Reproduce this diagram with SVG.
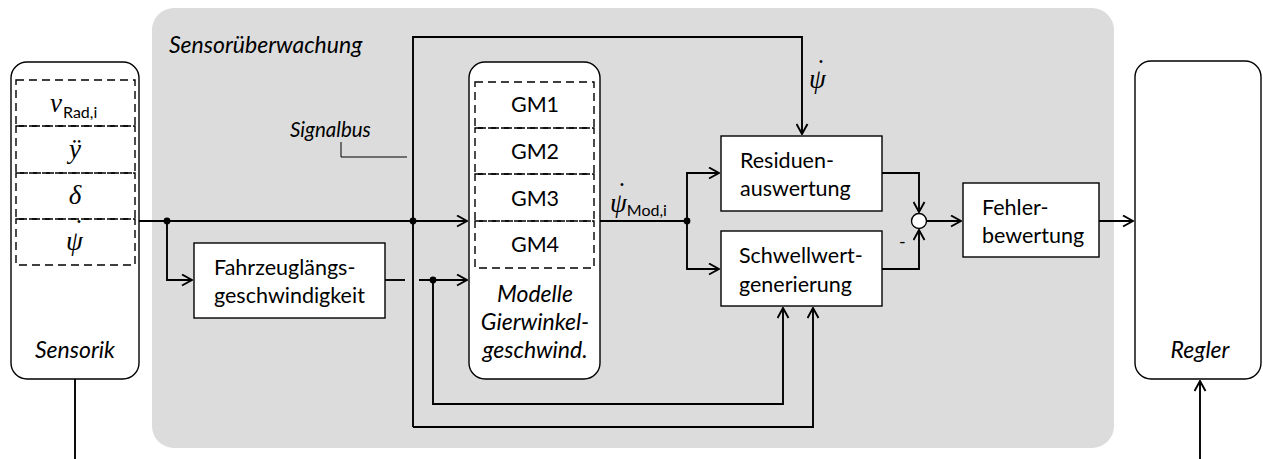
<svg xmlns="http://www.w3.org/2000/svg" width="1263" height="459" viewBox="0 0 1263 459">
  <style>
    .box { fill: #ffffff; stroke: #000000; stroke-width: 1.4; }
    .cell { fill: none; stroke: #000000; stroke-width: 1.4; stroke-dasharray: 8 5; }
    .wire { fill: none; stroke: #000000; stroke-width: 1.9; }
    .thin { fill: none; stroke: #000000; stroke-width: 1; }
    .lbl { font-family: Lato, "Liberation Sans", sans-serif; font-size: 21.5px; fill: #000000; }
    .it { font-family: Lato, "Liberation Sans", sans-serif; font-style: italic; font-size: 23px; fill: #000000; }
    .math { font-family: "Liberation Serif", "DejaVu Serif", serif; font-style: italic; font-size: 27px; fill: #000000; }
    .sub { font-family: Lato, "Liberation Sans", sans-serif; font-style: normal; font-size: 16px; fill: #000000; }
    .dot { fill: #000000; }
  </style>
  <defs>
    <marker id="arr" viewBox="0 0 12 13" refX="11" refY="6.5" markerWidth="12" markerHeight="13" markerUnits="userSpaceOnUse" orient="auto">
      <path d="M1,1 L11,6.5 L1,12" fill="none" stroke="#000000" stroke-width="1.9"/>
    </marker>
  </defs>

  <!-- monitoring area -->
  <g id="sensorueberwachung">
    <rect x="152" y="8" width="962" height="440" rx="22" fill="#dcdcdc"/>
    <text class="it" x="169" y="53">Sensorüberwachung</text>
  </g>

  <!-- sensor block -->
  <g id="sensorik">
    <rect class="box" x="11" y="62" width="128" height="317" rx="16"/>
    <rect class="cell" x="16" y="80" width="119" height="46"/>
    <rect class="cell" x="16" y="126" width="119" height="47"/>
    <rect class="cell" x="16" y="173" width="119" height="46"/>
    <rect class="cell" x="16" y="219" width="119" height="46"/>
    <text class="math" x="50" y="112">v<tspan class="sub" dx="1" dy="6">Rad,i</tspan></text>
    <text class="math" x="75" y="158" text-anchor="middle">ÿ</text>
    <text class="math" x="75" y="204" text-anchor="middle">δ</text>
    <text class="math" x="66" y="250">ψ<tspan dx="-10" dy="-12">˙</tspan></text>
    <text class="it" x="75" y="358" text-anchor="middle">Sensorik</text>
  </g>

  <!-- longitudinal velocity -->
  <g id="fahrzeuglaengsgeschwindigkeit">
    <rect class="box" x="194" y="243" width="191" height="75"/>
    <text class="lbl" x="214" y="275">Fahrzeuglängs-</text>
    <text class="lbl" x="214" y="303">geschwindigkeit</text>
  </g>

  <!-- yaw rate models -->
  <g id="modelle">
    <rect class="box" x="469" y="62" width="131" height="317" rx="16"/>
    <rect class="cell" x="475" y="82" width="119" height="46"/>
    <rect class="cell" x="475" y="128" width="119" height="46"/>
    <rect class="cell" x="475" y="174" width="119" height="47"/>
    <rect class="cell" x="475" y="221" width="119" height="47"/>
    <text class="lbl" x="535" y="112" text-anchor="middle">GM1</text>
    <text class="lbl" x="535" y="159" text-anchor="middle">GM2</text>
    <text class="lbl" x="535" y="206" text-anchor="middle">GM3</text>
    <text class="lbl" x="535" y="252" text-anchor="middle">GM4</text>
    <text class="it" x="535" y="302" text-anchor="middle">Modelle</text>
    <text class="it" x="535" y="330" text-anchor="middle">Gierwinkel-</text>
    <text class="it" x="535" y="358" text-anchor="middle">geschwind.</text>
  </g>

  <!-- residual evaluation -->
  <g id="residuenauswertung">
    <rect class="box" x="721" y="136" width="161" height="75"/>
    <text class="lbl" x="740" y="168">Residuen-</text>
    <text class="lbl" x="740" y="196">auswertung</text>
  </g>

  <!-- threshold generation -->
  <g id="schwellwertgenerierung">
    <rect class="box" x="721" y="231" width="161" height="75"/>
    <text class="lbl" x="739" y="263">Schwellwert-</text>
    <text class="lbl" x="739" y="292">generierung</text>
  </g>

  <!-- comparison point -->
  <g id="vergleich">
    <circle class="box" cx="919" cy="221" r="7.5"/>
  </g>

  <!-- fault assessment -->
  <g id="fehlerbewertung">
    <rect class="box" x="963" y="183" width="136" height="74"/>
    <text class="lbl" x="982" y="215">Fehler-</text>
    <text class="lbl" x="982" y="243">bewertung</text>
  </g>

  <!-- controller -->
  <g id="regler">
    <rect class="box" x="1135" y="61" width="126" height="318" rx="16"/>
    <text class="it" x="1200" y="358" text-anchor="middle">Regler</text>
  </g>

  <!-- signal lines -->
  <g id="connectors">
    <path class="wire" d="M139,221 H467" marker-end="url(#arr)"/>
    <path class="wire" d="M167,221 V280 H192" marker-end="url(#arr)"/>
    <path class="wire" d="M385,280 H405"/>
    <path class="wire" d="M419,280 H467" marker-end="url(#arr)"/>
    <path class="wire" d="M413,427 V37 H802 V134" marker-end="url(#arr)"/>
    <path class="wire" d="M413,427 H813 V308" marker-end="url(#arr)"/>
    <path class="wire" d="M433,280 V404 H783 V308" marker-end="url(#arr)"/>
    <path class="wire" d="M600,221 H687"/>
    <path class="wire" d="M687,221 V173 H719" marker-end="url(#arr)"/>
    <path class="wire" d="M687,221 V269 H719" marker-end="url(#arr)"/>
    <path class="wire" d="M882,173 H919 V212" marker-end="url(#arr)"/>
    <path class="wire" d="M882,269 H919 V230" marker-end="url(#arr)"/>
    <path class="wire" d="M926.5,221 H961" marker-end="url(#arr)"/>
    <path class="wire" d="M1099,221 H1133" marker-end="url(#arr)"/>
    <path class="wire" d="M75,379 V459"/>
    <path class="wire" d="M1200,459 V381" marker-end="url(#arr)"/>
    <circle class="dot" cx="167" cy="221" r="3.4"/>
    <circle class="dot" cx="413" cy="221" r="3.4"/>
    <circle class="dot" cx="433" cy="280" r="3.4"/>
    <circle class="dot" cx="687" cy="221" r="3.4"/>
    <!-- bus annotation -->
    <path class="thin" d="M341,142 V157 H407"/>
    <text class="it" x="290" y="137" style="font-size:20.5px">Signalbus</text>
    <!-- signal labels -->
    <text class="math" x="809" y="88">ψ<tspan dx="-11" dy="-10">˙</tspan></text>
    <text class="math" x="610" y="212">ψ<tspan dx="-11" dy="-11">˙</tspan><tspan class="sub" dx="2" dy="15">Mod,i</tspan></text>
    <text class="lbl" x="899" y="248" style="font-size:18px">-</text>
  </g>
</svg>
